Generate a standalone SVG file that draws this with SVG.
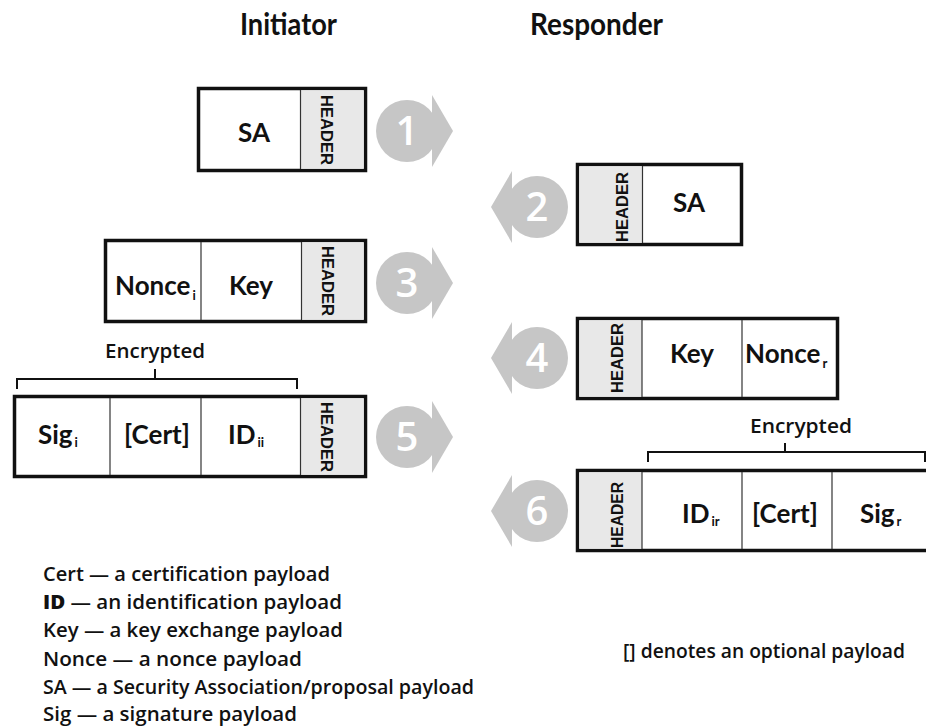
<svg xmlns="http://www.w3.org/2000/svg" xmlns:xlink="http://www.w3.org/1999/xlink" width="926" height="728" viewBox="0 0 926 728">
  <style>
    .frame { fill: #ffffff; stroke: #111111; stroke-width: 3.5; }
    .hdr { fill: #e8e8e8; }
    .div { stroke: #333333; stroke-width: 1.2; fill: none; }
    .hdrtxt { font-family: "Liberation Sans", Arial, sans-serif; font-weight: bold; font-size: 16px; fill: #111111; text-anchor: middle; }
    .lbl { font-family: Lato, "Liberation Sans", sans-serif; font-weight: bold; font-size: 26px; fill: #111111; }
    .sub { font-size: 13px; }
    .title { font-family: Lato, "Liberation Sans", sans-serif; font-weight: bold; font-size: 31px; fill: #111111; }
    .note { font-family: "Open Sans", "Liberation Sans", sans-serif; font-weight: 600; font-size: 19px; fill: #111111; }
    .brace { fill: none; stroke: #111111; stroke-width: 2; }
    .step { fill: #c6c6c6; }
    .num { font-family: "Open Sans", "Liberation Sans", sans-serif; font-weight: 600; font-size: 40px; fill: #ffffff; text-anchor: middle; }
  </style>
  <defs>
    <!-- round step badge with an arrow point on the right -->
    <g id="badge">
      <circle cx="0" cy="0" r="31"/>
      <polygon points="25,-36 46,0 25,36"/>
    </g>
  </defs>

  <rect x="0" y="0" width="926" height="728" fill="#ffffff"/>

  <!-- column titles -->
  <text class="title" x="240" y="35" textLength="97" lengthAdjust="spacingAndGlyphs">Initiator</text>
  <text class="title" x="530" y="35" textLength="133" lengthAdjust="spacingAndGlyphs">Responder</text>

  <!-- step badges -->
  <g id="connectors" class="step">
    <use xlink:href="#badge" href="#badge" transform="translate(407,131)"/>
    <use xlink:href="#badge" href="#badge" transform="translate(537,207) scale(-1,1)"/>
    <use xlink:href="#badge" href="#badge" transform="translate(407,283)"/>
    <use xlink:href="#badge" href="#badge" transform="translate(537,358) scale(-1,1)"/>
    <use xlink:href="#badge" href="#badge" transform="translate(407,437)"/>
    <use xlink:href="#badge" href="#badge" transform="translate(537,511) scale(-1,1)"/>
    <text class="num" x="407" y="145">1</text>
    <text class="num" x="537" y="221">2</text>
    <text class="num" x="407" y="297">3</text>
    <text class="num" x="537" y="372">4</text>
    <text class="num" x="407" y="451">5</text>
    <text class="num" x="537" y="525">6</text>
  </g>

  <!-- message 1: SA -->
  <g id="msg1">
    <rect class="frame" x="198.5" y="88.5" width="167" height="82"/>
    <rect class="hdr" x="300.5" y="90.3" width="63.2" height="78.4"/>
    <line class="div" x1="300.5" y1="90" x2="300.5" y2="169"/>
    <text class="hdrtxt" transform="translate(321,130) rotate(90)" textLength="70" lengthAdjust="spacingAndGlyphs">HEADER</text>
    <text class="lbl" x="254" y="142" text-anchor="middle">SA</text>
  </g>

  <!-- message 2: SA -->
  <g id="msg2">
    <rect class="frame" x="577.5" y="164.5" width="164" height="80"/>
    <rect class="hdr" x="579.3" y="166.3" width="63.2" height="76.4"/>
    <line class="div" x1="642.5" y1="166" x2="642.5" y2="243"/>
    <text class="hdrtxt" transform="translate(628,207) rotate(-90)" textLength="70" lengthAdjust="spacingAndGlyphs">HEADER</text>
    <text class="lbl" x="689" y="212" text-anchor="middle">SA</text>
  </g>

  <!-- message 3: Nonce, Key -->
  <g id="msg3">
    <rect class="frame" x="105.5" y="240.5" width="260" height="81"/>
    <rect class="hdr" x="301.5" y="242.3" width="62.2" height="77.4"/>
    <line class="div" x1="201" y1="242" x2="201" y2="320"/>
    <line class="div" x1="301.5" y1="242" x2="301.5" y2="320"/>
    <text class="hdrtxt" transform="translate(322,281) rotate(90)" textLength="70" lengthAdjust="spacingAndGlyphs">HEADER</text>
    <text class="lbl" x="115" y="295">Nonce<tspan class="sub" dx="2" dy="5">i</tspan></text>
    <text class="lbl" x="251" y="295" text-anchor="middle">Key</text>
  </g>

  <!-- message 4: Key, Nonce -->
  <g id="msg4">
    <rect class="frame" x="577.5" y="318.5" width="260" height="80"/>
    <rect class="hdr" x="579.3" y="320.3" width="62.7" height="76.4"/>
    <line class="div" x1="642" y1="320" x2="642" y2="397"/>
    <line class="div" x1="742" y1="320" x2="742" y2="397"/>
    <text class="hdrtxt" transform="translate(623,358) rotate(-90)" textLength="70" lengthAdjust="spacingAndGlyphs">HEADER</text>
    <text class="lbl" x="692" y="363" text-anchor="middle">Key</text>
    <text class="lbl" x="745" y="363">Nonce<tspan class="sub" dx="2" dy="5">r</tspan></text>
  </g>

  <!-- message 5: encrypted Sig, [Cert], ID -->
  <g id="msg5">
    <path class="brace" d="M17,389 V379 H297 V389 M155,379 V369"/>
    <text class="note" x="155" y="358" text-anchor="middle" textLength="100" lengthAdjust="spacingAndGlyphs">Encrypted</text>
    <rect class="frame" x="14.5" y="396.5" width="351" height="80"/>
    <rect class="hdr" x="300.5" y="398.3" width="63.2" height="76.4"/>
    <line class="div" x1="110" y1="398" x2="110" y2="475"/>
    <line class="div" x1="201" y1="398" x2="201" y2="475"/>
    <line class="div" x1="300.5" y1="398" x2="300.5" y2="475"/>
    <text class="hdrtxt" transform="translate(321,437) rotate(90)" textLength="70" lengthAdjust="spacingAndGlyphs">HEADER</text>
    <text class="lbl" x="38" y="444">Sig<tspan class="sub" dx="2" dy="3">i</tspan></text>
    <text class="lbl" x="157" y="444" text-anchor="middle">[Cert]</text>
    <text class="lbl" x="228" y="444">ID<tspan class="sub" dx="2" dy="3">ii</tspan></text>
  </g>

  <!-- message 6: encrypted ID, [Cert], Sig -->
  <g id="msg6">
    <path class="brace" d="M648,462 V452 H925 V462 M785,452 V443"/>
    <text class="note" x="801" y="433" text-anchor="middle" textLength="102" lengthAdjust="spacingAndGlyphs">Encrypted</text>
    <rect class="frame" x="577.5" y="470.5" width="360" height="80"/>
    <rect class="hdr" x="579.3" y="472.3" width="62.7" height="76.4"/>
    <line class="div" x1="642" y1="472" x2="642" y2="549"/>
    <line class="div" x1="742" y1="472" x2="742" y2="549"/>
    <line class="div" x1="832" y1="472" x2="832" y2="549"/>
    <text class="hdrtxt" transform="translate(623,515) rotate(-90)" textLength="66" lengthAdjust="spacingAndGlyphs">HEADER</text>
    <text class="lbl" x="682" y="523">ID<tspan class="sub" dx="2" dy="3">ir</tspan></text>
    <text class="lbl" x="785" y="523" text-anchor="middle">[Cert]</text>
    <text class="lbl" x="860" y="523">Sig<tspan class="sub" dx="2" dy="3">r</tspan></text>
  </g>

  <!-- abbreviations -->
  <g id="legend" class="note">
    <text x="43" y="581" textLength="287" lengthAdjust="spacingAndGlyphs">Cert — a certification payload</text>
    <text x="43" y="609" textLength="299" lengthAdjust="spacingAndGlyphs"><tspan font-weight="800">ID</tspan> — an identification payload</text>
    <text x="43" y="637" textLength="300" lengthAdjust="spacingAndGlyphs">Key — a key exchange payload</text>
    <text x="43" y="666" textLength="259" lengthAdjust="spacingAndGlyphs">Nonce — a nonce payload</text>
    <text x="43" y="694" textLength="431" lengthAdjust="spacingAndGlyphs">SA — a Security Association/proposal payload</text>
    <text x="43" y="721" textLength="254" lengthAdjust="spacingAndGlyphs">Sig — a signature payload</text>
    <text x="623" y="658" textLength="282" lengthAdjust="spacingAndGlyphs">[] denotes an optional payload</text>
  </g>
</svg>
